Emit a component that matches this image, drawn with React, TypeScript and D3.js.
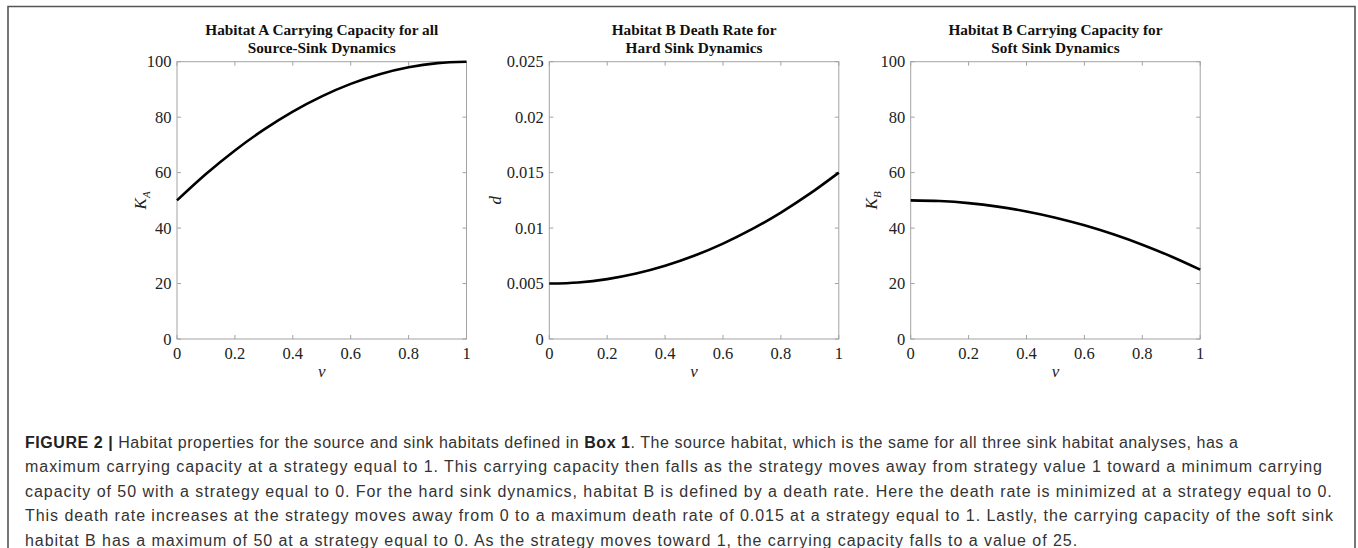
import React from "react";
import * as d3 from "d3";

const vValues = [0, 0.1, 0.2, 0.3, 0.4, 0.5, 0.6, 0.7, 0.8, 0.9, 1];
const habitatA_K = [50, 59.5, 68, 75.5, 82, 87.5, 92, 95.5, 98, 99.5, 100];
const habitatB_d = [0.005, 0.0051, 0.0054, 0.0059, 0.0066, 0.0075, 0.0086, 0.0099, 0.0114, 0.0131, 0.015];
const habitatB_K = [50, 49.75, 49, 47.75, 46, 43.75, 41, 37.75, 34, 29.75, 25];

const xTicks = [0, 0.2, 0.4, 0.6, 0.8, 1];
const xTickLabels = ["0", "0.2", "0.4", "0.6", "0.8", "1"];
const kTicks = [0, 20, 40, 60, 80, 100];
const kTickLabels = ["0", "20", "40", "60", "80", "100"];
const dTicks = [0, 0.005, 0.01, 0.015, 0.02, 0.025];
const dTickLabels = ["0", "0.005", "0.01", "0.015", "0.02", "0.025"];

const titles = [
  ["Habitat A Carrying Capacity for all", "Source-Sink Dynamics"],
  ["Habitat B Death Rate for", "Hard Sink Dynamics"],
  ["Habitat B Carrying Capacity for", "Soft Sink Dynamics"],
];

const captionLines = [
  [
    { t: "FIGURE 2 | ", b: true },
    { t: "Habitat properties for the source and sink habitats defined in ", b: false },
    { t: "Box 1", b: true },
    { t: ". The source habitat, which is the same for all three sink habitat analyses, has a", b: false },
  ],
  [{ t: "maximum carrying capacity at a strategy equal to 1. This carrying capacity then falls as the strategy moves away from strategy value 1 toward a minimum carrying", b: false }],
  [{ t: "capacity of 50 with a strategy equal to 0. For the hard sink dynamics, habitat B is defined by a death rate. Here the death rate is minimized at a strategy equal to 0.", b: false }],
  [{ t: "This death rate increases at the strategy moves away from 0 to a maximum death rate of 0.015 at a strategy equal to 1. Lastly, the carrying capacity of the soft sink", b: false }],
  [{ t: "habitat B has a maximum of 50 at a strategy equal to 0. As the strategy moves toward 1, the carrying capacity falls to a value of 25.", b: false }],
];
const captionLineWidths = [1215, 0, 0, 0, 0];

const SERIF = "'Liberation Serif', 'Times New Roman', serif";
const SANS = "'Liberation Sans', Arial, Helvetica, sans-serif";

const PLOT_TOP = 61.7;
const PLOT_BOTTOM = 339;
const PLOT_W = 289.5;
const panelLefts = [177, 549.3, 910.7];

type PanelProps = {
  left: number;
  title: string[];
  values: number[];
  yDomain: [number, number];
  yTicks: number[];
  yTickLabels: string[];
  yLabel: React.ReactNode;
  yLabelX: number;
};

function Panel({ left, title, values, yDomain, yTicks, yTickLabels, yLabel, yLabelX }: PanelProps) {
  const x = d3.scaleLinear().domain([0, 1]).range([left, left + PLOT_W]);
  const y = d3.scaleLinear().domain(yDomain).range([PLOT_BOTTOM, PLOT_TOP]);
  const line = d3
    .line<number>()
    .x((_, i) => x(vValues[i]))
    .y((d) => y(d))
    .curve(d3.curveMonotoneX);
  const axisColor = "#a3a3a3";
  const tl = 4;
  const cx = left + PLOT_W / 2;
  const cy = (PLOT_TOP + PLOT_BOTTOM) / 2;
  return (
    <g>
      <text x={cx} y={34.5} textAnchor="middle" fontFamily={SERIF} fontWeight="bold" fontSize={15.3} fill="#111">
        {title[0]}
      </text>
      <text x={cx} y={52.5} textAnchor="middle" fontFamily={SERIF} fontWeight="bold" fontSize={15.3} fill="#111">
        {title[1]}
      </text>
      <rect x={left} y={PLOT_TOP} width={PLOT_W} height={PLOT_BOTTOM - PLOT_TOP} fill="white" stroke={axisColor} strokeWidth={1} />
      {xTicks.map((t, i) => (
        <g key={"x" + i}>
          <line x1={x(t)} x2={x(t)} y1={PLOT_BOTTOM} y2={PLOT_BOTTOM - tl} stroke={axisColor} />
          <line x1={x(t)} x2={x(t)} y1={PLOT_TOP} y2={PLOT_TOP + tl} stroke={axisColor} />
          <text x={x(t)} y={359} textAnchor="middle" fontFamily={SERIF} fontSize={16.5} fill="#222">
            {xTickLabels[i]}
          </text>
        </g>
      ))}
      {yTicks.map((t, i) => (
        <g key={"y" + i}>
          <line x1={left} x2={left + tl} y1={y(t)} y2={y(t)} stroke={axisColor} />
          <line x1={left + PLOT_W} x2={left + PLOT_W - tl} y1={y(t)} y2={y(t)} stroke={axisColor} />
          <text x={left - 5.5} y={y(t) + 5.5} textAnchor="end" fontFamily={SERIF} fontSize={16.5} fill="#222">
            {yTickLabels[i]}
          </text>
        </g>
      ))}
      <path d={line(values) || ""} fill="none" stroke="#000" strokeWidth={2.6} />
      <text x={cx} y={377} textAnchor="middle" fontFamily={SERIF} fontStyle="italic" fontSize={17} fill="#222">
        v
      </text>
      <text
        transform={`translate(${yLabelX},${cy}) rotate(-90)`}
        textAnchor="middle"
        fontFamily={SERIF}
        fontStyle="italic"
        fontSize={17}
        fill="#222"
      >
        {yLabel}
      </text>
    </g>
  );
}

export default function App() {
  return (
    <svg
      width={1358}
      height={548}
      style={{ position: "absolute", left: 0, top: 0, background: "white" }}
    >
      <rect x={0} y={0} width={1358} height={548} fill="white" />
      <path d="M8,560 L8,6.5 L1355,6.5 L1355,560" fill="none" stroke="#555" strokeWidth={1.6} />
      <Panel
        left={panelLefts[0]}
        title={titles[0]}
        values={habitatA_K}
        yDomain={[0, 100]}
        yTicks={kTicks}
        yTickLabels={kTickLabels}
        yLabel={
          <>
            K<tspan fontSize={11} dy={4}>A</tspan>
          </>
        }
        yLabelX={146}
      />
      <Panel
        left={panelLefts[1]}
        title={titles[1]}
        values={habitatB_d}
        yDomain={[0, 0.025]}
        yTicks={dTicks}
        yTickLabels={dTickLabels}
        yLabel={<>d</>}
        yLabelX={501}
      />
      <Panel
        left={panelLefts[2]}
        title={titles[2]}
        values={habitatB_K}
        yDomain={[0, 100]}
        yTicks={kTicks}
        yTickLabels={kTickLabels}
        yLabel={
          <>
            K<tspan fontSize={11} dy={4}>B</tspan>
          </>
        }
        yLabelX={877}
      />
      {captionLines.map((ln, i) => (
        <text
          key={i}
          x={25}
          y={447.5 + i * 24.5}
          fontFamily={SANS}
          fontSize={16}
          letterSpacing={captionLineWidths[i] ? 0.55 : 0.95}
          fill="#333"
        >
          {ln.map((s, j) => (
            <tspan key={j} fontWeight={s.b ? "bold" : "normal"} fill={s.b ? "#222" : "#333"}>
              {s.t}
            </tspan>
          ))}
        </text>
      ))}
    </svg>
  );
}
